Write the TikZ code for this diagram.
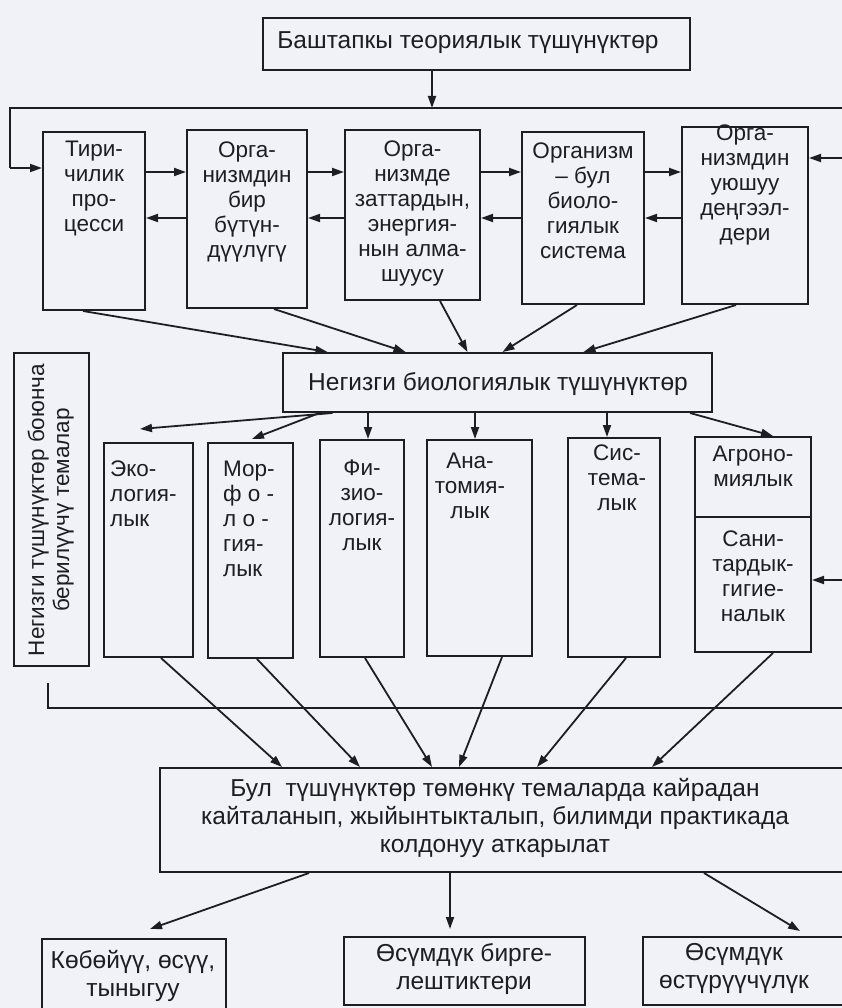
\documentclass[tikz,border=0pt]{standalone}
\usepackage{fontspec}
\setmainfont{Liberation Sans}
\usepackage{xcolor}
\usetikzlibrary{arrows.meta}
\definecolor{ink}{HTML}{1E1E22}
\definecolor{paper}{HTML}{F1F2F8}
\tikzset{
  box/.style={draw=ink, line width=2pt, inner sep=0pt},
  lab/.style={text=ink, inner sep=0pt, align=center, execute at begin node=\strut,
    font=\fontsize{22.5}{25}\selectfont},
  labw/.style={text=ink, inner sep=0pt, align=center, execute at begin node=\strut,
    font=\fontsize{24.5}{28}\selectfont},
  wire/.style={draw=ink, line width=1.8pt},
  arr/.style={draw=ink, line width=1.8pt, -{Triangle[length=12pt,width=8pt]}},
}

\begin{document}
\begin{tikzpicture}[x=1pt,y=-1pt]
  \fill[paper] (0,0) rectangle (842,1008);
  \useasboundingbox (0,0) rectangle (842,1008);

  % top box
  \node[box, minimum width=427pt, minimum height=52pt] (T) at (476.5,44) {};
  \node[labw, anchor=base] (T-t) at (468,49) {Баштапкы теориялык түшүнүктөр};

  % first row
  \foreach \n/\x/\y/\w/\h in {B1/94/221/102/178, B2/247/219/120/178,
      B3/412.5/215/135/170, B4/583/218/122/172, B5/745/215.5/126/177}
    \node[box, minimum width=\w pt, minimum height=\h pt] (\n) at (\x,\y) {};
  \foreach \n/\x/\y/\t in {B1/94/140.5/{Тири-\\чилик\\про-\\цесси},
      B2/247/141.5/{Орга-\\низмдин\\бир\\бүтүн-\\дүүлүгү},
      B3/412.5/140.5/{Орга-\\низмде\\заттардын,\\энергия-\\нын алма-\\шуусу},
      B4/583/142.5/{Организм\\– бул\\биоло-\\гиялык\\система},
      B5/745/124.5/{Орга-\\низмдин\\уюшуу\\деңгээл-\\дери}}
    \node[lab, anchor=north] (\n-t) at (\x,\y) {\t};

  % feedback loops of the first row
  \coordinate (jn) at (432,108);
  \coordinate (lc) at (10,108);
  \coordinate (rc) at (850,108);
  \coordinate (lin) at (10,168);
  \coordinate (rin) at (850,158);
  \draw[arr] (T.south -| jn) -- (jn);
  \draw[wire] (rc) -- (lc) -- (lin);
  \draw[arr] (lin) -- (lin -| B1.west);
  \draw[arr] (rin) -- (rin -| B5.east);

  \coordinate (fw) at (0,172);
  \coordinate (bw) at (0,218);
  \foreach \a/\b in {B1/B2,B2/B3,B3/B4,B4/B5}{
    \draw[arr] (fw -| \a.east) -- (fw -| \b.west);
    \draw[arr] (bw -| \b.west) -- (bw -| \a.east);
  }

  % main concepts
  \node[box, minimum width=429pt, minimum height=59pt] (N) at (497.5,382.5) {};
  \node[labw, anchor=base] (N-t) at (498,390) {Негизги биологиялык түшүнүктөр};
  \foreach \b/\s/\e in {B1/-11/-170, B2/27/-92, B3/27.5/-30, B4/-6/5, B5/-9/86}
    \draw[arr] ([xshift=\s pt]\b.south) -- ([xshift=\e pt]N.north);

  % side box
  \node[box, minimum width=75pt, minimum height=313pt] (L) at (51.5,509.5) {};
  \node[lab, rotate=90, execute at begin node={}] (L-t) at (52,510)
    {Негизги түшүнүктөр боюнча\\берилүүчү темалар};

  % second row
  \foreach \n/\x/\y/\w/\h in {E/148.5/550/89/214, M/250.5/550.5/85/215,
      F/362/548.5/84/217, An/479.5/548/105/216, S/614/547.5/92/219,
      A/753/544.5/116/215}
    \node[box, minimum width=\w pt, minimum height=\h pt] (\n) at (\x,\y) {};
  \coordinate (dv) at (0,517);
  \draw[box] (dv -| A.west) -- (dv -| A.east);
  \node[lab, align=left, anchor=north west] (E-t) at (110,460.5) {Эко-\\логия-\\лык};
  \node[lab, align=left, anchor=north west] (M-t) at (223,460.5) {Мор-\\ф о -\\л о -\\гия-\\лык};
  \foreach \n/\x/\y/\t in {F/362/459.5/{Фи-\\зио-\\логия-\\лык},
      An/470/452.5/{Ана-\\томия-\\лык}, S/617/444.5/{Сис-\\тема-\\лык},
      A/753/445.5/{Агроно-\\миялык}, A2/753/530.5/{Сани-\\тардык-\\гигие-\\налык}}
    \node[lab, anchor=north] (\n-t) at (\x,\y) {\t};

  \foreach \s/\b/\e/\u in {-165/E/-8.5/13, -178/M/1.5/3, -129.5/F/6/0,
      -22.5/An/-4.5/0, 109.5/S/-7/0, 192.5/A/20/0}
    \draw[arr] ([xshift=\s pt]N.south) -- ([xshift=\e pt,yshift=\u pt]\b.north);

  % lower loop
  \coordinate (lb) at (48,683);
  \coordinate (lr) at (850,708);
  \coordinate (rin2) at (850,580);
  \draw[wire] (lb) |- (lr);
  \draw[arr] (rin2) -- (rin2 -| A.east);

  % summary box
  \node[box, minimum width=690pt, minimum height=104pt] (Q) at (505,820) {};
  \node[labw, anchor=north] (Q-t) at (495,778.4)
    {Бул~\ түшүнүктөр төмөнкү темаларда кайрадан\\кайталанып, жыйынтыкталып, билимди практикада\\колдонуу аткарылат};
  \foreach \b/\s/\e in {E/12.5/-223, M/6.5/-145, F/3/-73, An/22.5/-46, S/12/32, A/20/147}
    \draw[arr] ([xshift=\s pt]\b.south) -- ([xshift=\e pt]Q.north);

  % bottom row
  \foreach \n/\x/\y/\w/\h in {K/134/979.5/184/81, P/464.5/971/241/68, G/746.5/971/207/68}
    \node[box, minimum width=\w pt, minimum height=\h pt] (\n) at (\x,\y) {};
  \foreach \n/\x/\y/\t in {K/133/950.4/{Көбөйүү, өсүү,\\тыныгуу},
      P/464/943.4/{Өсүмдүк бирге-\\лештиктери}, G/734/943.4/{Өсүмдүк\\өстүрүүчүлүк}}
    \node[labw, anchor=north] (\n-t) at (\x,\y) {\t};
  \foreach \s/\b/\e/\u in {-196/K/16/9, -55/P/-14.5/7, 199/G/53.5/5}
    \draw[arr] ([xshift=\s pt]Q.south) -- ([xshift=\e pt,yshift=\u pt]\b.north);
\end{tikzpicture}
\end{document}
